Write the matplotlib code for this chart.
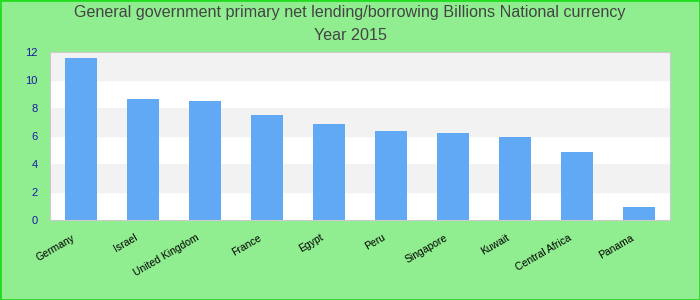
import numpy as np
import matplotlib.pyplot as plt
import matplotlib.transforms as mtransforms

# data
countries = ['Germany', 'Israel', 'United Kingdom', 'France', 'Egypt',
             'Peru', 'Singapore', 'Kuwait', 'Central Africa', 'Panama']
values = [11.57, 8.64, 8.5, 7.5, 6.86, 6.36, 6.21, 5.93, 4.86, 0.93]
yticks = [0, 2, 4, 6, 8, 10, 12]

plt.rcParams['font.family'] = ['Liberation Sans', 'DejaVu Sans']

fig = plt.figure(figsize=(7, 3), dpi=100, facecolor='#90ee90')
ax = fig.add_axes([50/700, 1-220/300, 620/700, 168/300])
ax.set_facecolor('white')

# alternating bands
for lo in range(0, 12, 2):
    if (lo // 2) % 2 == 1:
        ax.axhspan(lo, lo + 2, color='#f2f2f2', zorder=0)

x = np.arange(len(countries))
ax.bar(x, values, width=0.52, color='#62a9f5', zorder=2)

ax.set_xlim(-0.5, len(countries) - 0.5)
ax.set_ylim(0, 12)
ax.set_yticks(yticks)
ax.set_yticklabels([str(t) for t in yticks], color='#1a1aa6', fontsize=8)
ax.set_xticks(x)
ax.set_xticklabels(countries, rotation=30, ha='right', rotation_mode='anchor', fontsize=7.5)
ax.tick_params(axis='both', length=0)
ax.tick_params(axis='x', pad=9)
ax.tick_params(axis='y', pad=9)
shift = mtransforms.ScaledTranslation(-9/100, 0, fig.dpi_scale_trans)
for lbl in ax.get_xticklabels():
    lbl.set_transform(lbl.get_transform() + shift)
for s in ax.spines.values():
    s.set_color('#cccccc')

fig.text(0.5, 1-13/300, 'General government primary net lending/borrowing Billions National currency',
         ha='center', va='center', fontsize=11.6, color='#444444')
fig.text(0.5, 1-36/300, 'Year 2015', ha='center', va='center', fontsize=11.6, color='#444444')

border = plt.Rectangle((0, 0), 1, 1, transform=fig.transFigure, fill=False,
                       edgecolor='#22dd22', linewidth=2)
fig.patches.append(border)

plt.savefig('out.png', dpi=100, facecolor=fig.get_facecolor())
